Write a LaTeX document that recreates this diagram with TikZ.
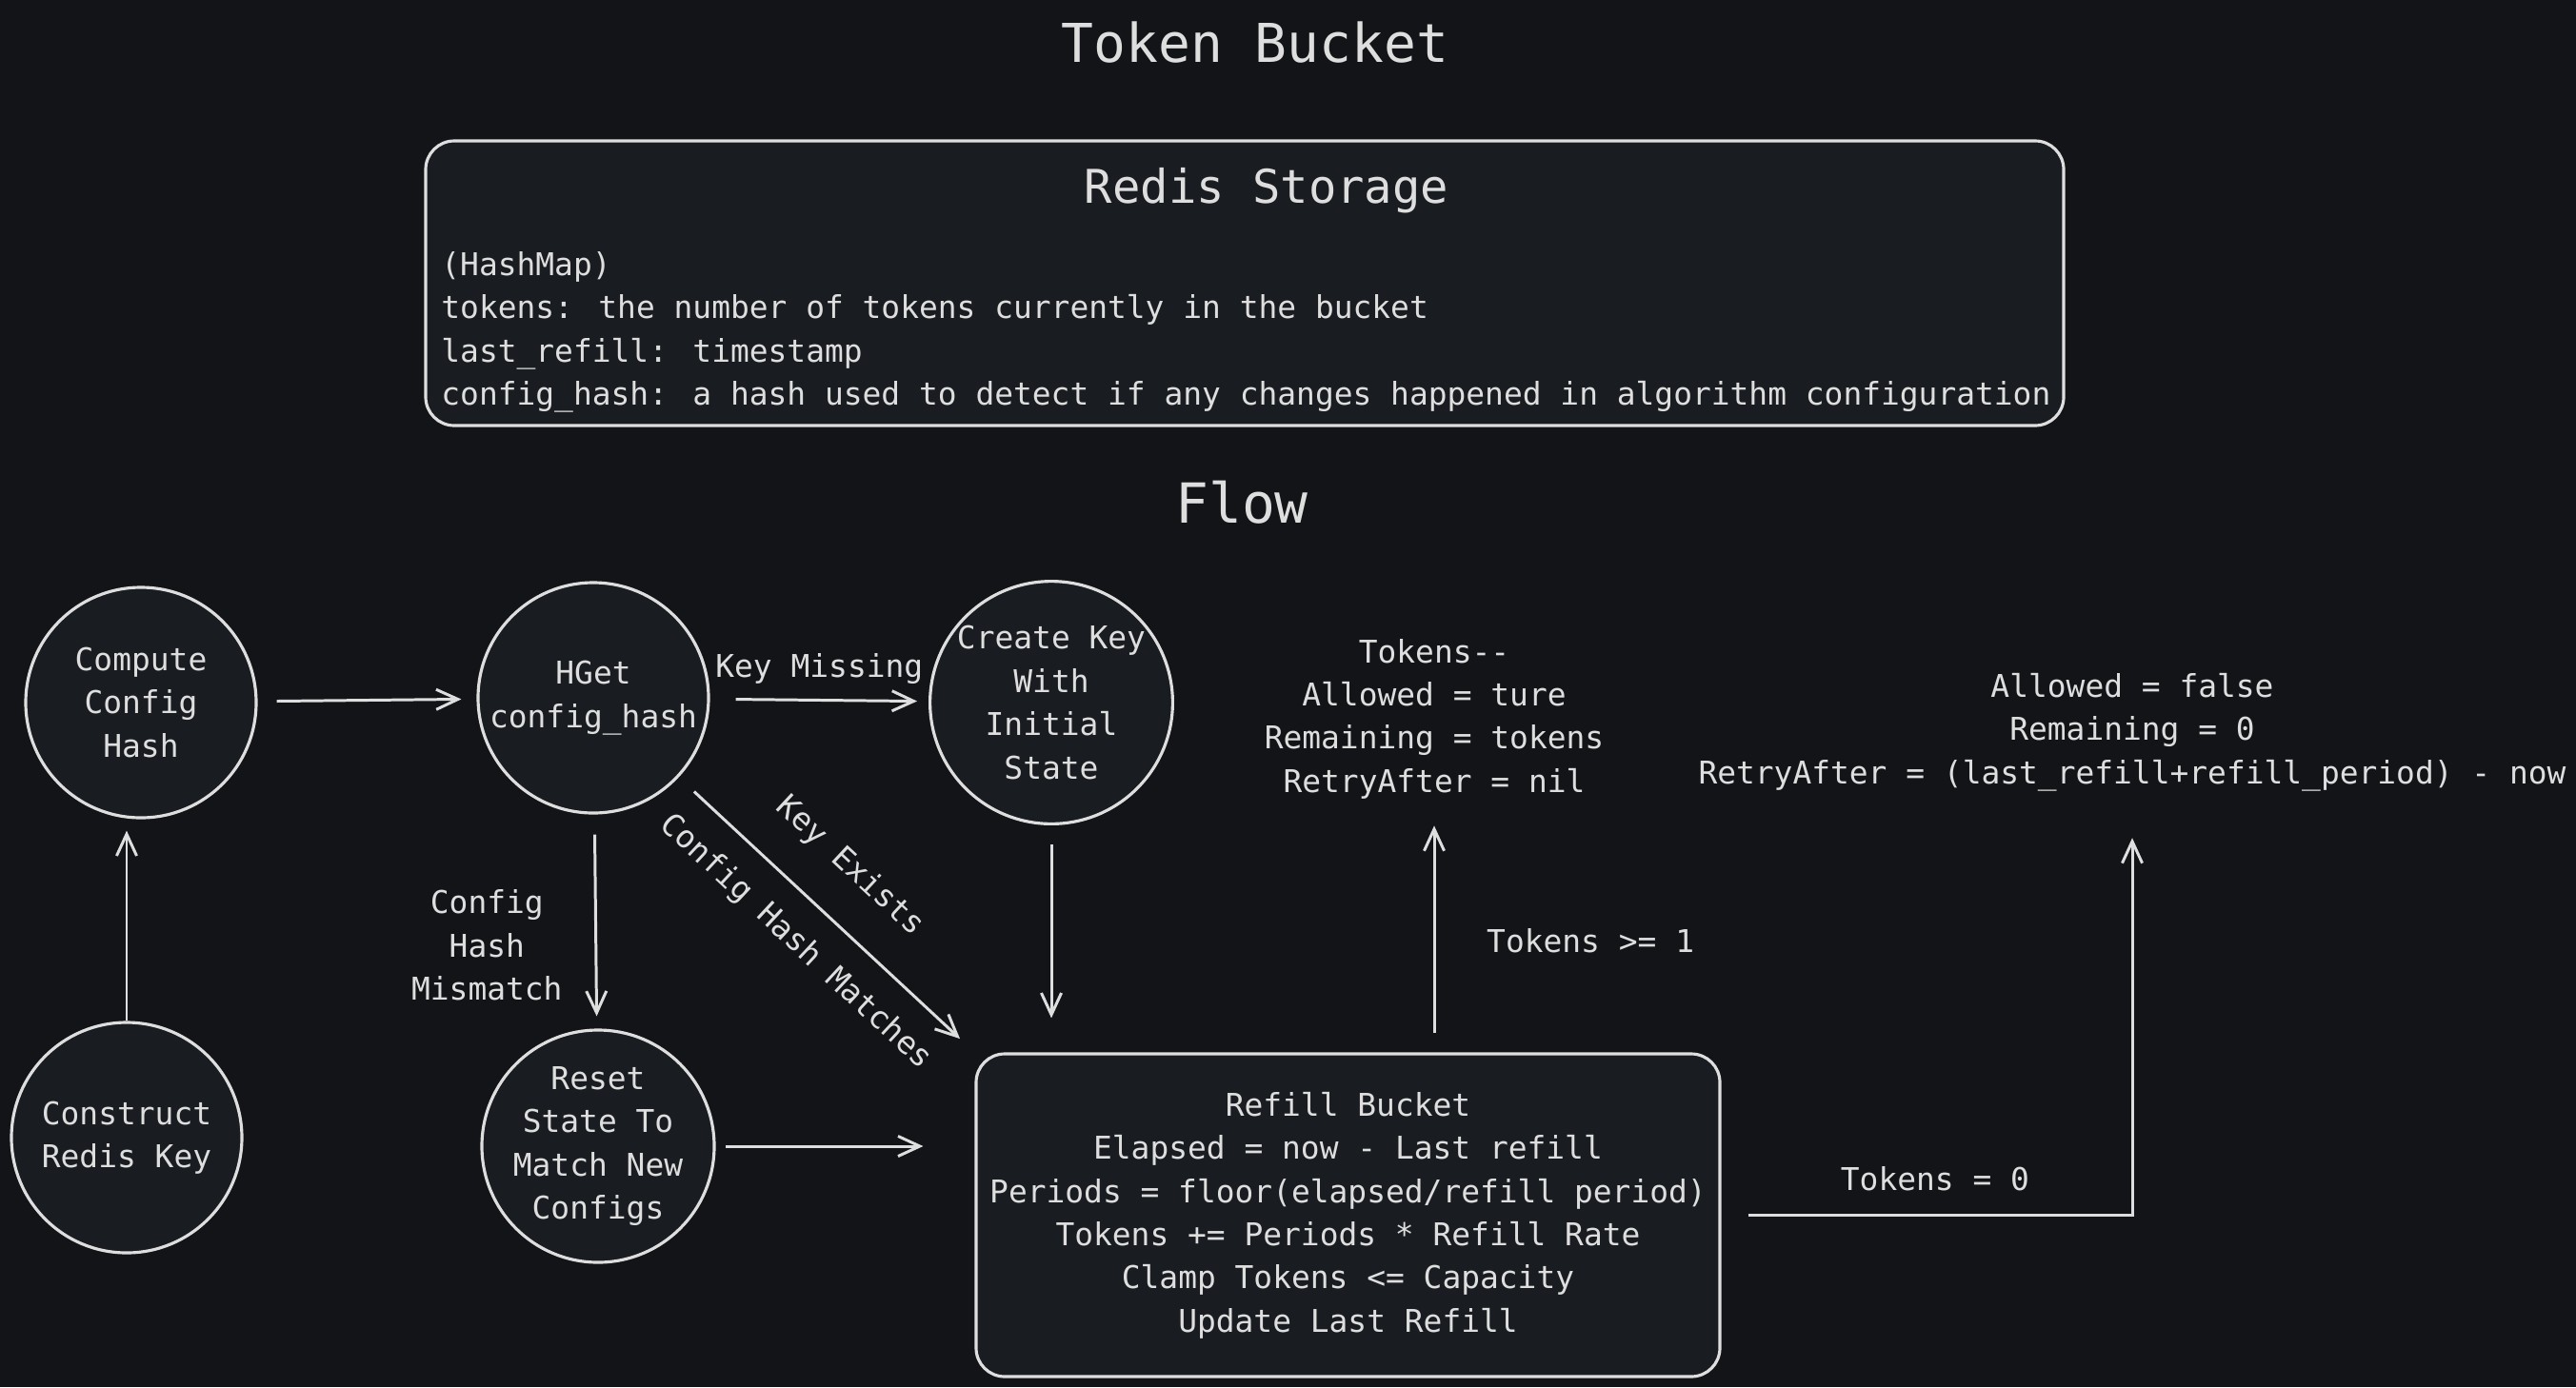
\documentclass[tikz,border=0pt]{standalone}
\usepackage{fontspec}
\setmainfont{DejaVu Sans Mono}
\usetikzlibrary{arrows.meta}
\definecolor{canvas}{RGB}{18,20,23}
\definecolor{ink}{RGB}{222,222,222}
\definecolor{shade}{RGB}{25,28,32}
\newcommand{\flowfont}{\fontsize{9.36}{12.9}\selectfont}

\begin{document}
\begin{tikzpicture}[x=1cm,y=-1cm]\tikzset{state/.style = {shape=circle, draw=ink, fill=shade, line width=0.9pt, minimum size=2.42cm, inner sep=0pt, align=center, text=ink, font=\flowfont},
	panel/.style = {draw=ink, fill=shade, line width=0.9pt, rounded corners=0.3cm},
	txt/.style = {text=ink, font=\flowfont, align=center},
	flow/.style = {draw=ink, line width=0.85pt, -{Straight Barb[length=6.5pt,width=6pt]}}}

		\fill[canvas] (0,0) rectangle (27.05,14.57);
		\useasboundingbox (0,0) rectangle (27.05,14.57);

		\node[txt, font=\fontsize{16}{19}\selectfont] (heading) at (13.18,0.45) {Token Bucket};
		\node[panel, minimum width=17.2cm, minimum height=2.99cm] (storage) at (13.07,2.975) {};
		\node[txt, font=\fontsize{13.9}{16}\selectfont] (storagetitle) at (13.30,2.0) {Redis Storage};
		\node[txt, align=left, anchor=west] (fields) at (4.51,3.49) {(HashMap)\\tokens: the number of tokens currently in the bucket\\last\_refill: timestamp\\config\_hash: a hash used to detect if any changes happened in algorithm configuration};
		\node[txt, font=\fontsize{16.5}{19}\selectfont] (flowtitle) at (13.04,5.28) {Flow};

		\node[state] (compute) at (1.48,7.38) {Compute\\Config\\Hash};
		\node[state] (hget) at (6.23,7.33) {HGet\\config\_hash};
		\node[state] (create) at (11.04,7.38) {Create Key\\With\\Initial\\State};
		\node[state] (construct) at (1.33,11.95) {Construct\\Redis Key};
		\node[state] (reset) at (6.28,12.04) {Reset\\State To\\Match New\\Configs};
		\node[panel, txt, minimum width=7.81cm, minimum height=3.39cm] (refill) at (14.155,12.765) {Refill Bucket\\Elapsed = now - Last refill\\Periods = floor(elapsed/refill period)\\Tokens += Periods * Refill Rate\\Clamp Tokens <= Capacity\\Update Last Refill};
		\node[txt] (allowtrue) at (15.06,7.55) {Tokens{-}{-}\\Allowed = ture\\Remaining = tokens\\RetryAfter = nil};
		\node[txt] (allowfalse) at (22.39,7.69) {Allowed = false\\Remaining = 0\\RetryAfter = (last\_refill+refill\_period) - now};

		\draw[flow, shorten <=0.2cm, shorten >=0.16cm] (compute) -- (hget);
		\draw[flow, shorten >=0.12cm] (construct.north) -- (construct.north |- compute.south);
		\draw[flow, shorten <=0.27cm, shorten >=0.12cm] (hget) -- node[txt, above=1pt] {Key Missing} (create);
		\draw[flow, shorten <=0.21cm, shorten >=0.13cm] (hget) -- node[txt, pos=0.61, left=0.22cm] {Config\\Hash\\Mismatch} (reset);
		\draw[flow, shorten <=0.22cm, shorten >=0.21cm] (hget) -- node[txt, pos=0.46, sloped, above=7pt] {Key Exists} node[txt, pos=0.49, sloped, below=4pt] {Config Hash Matches} (refill.north west);
		\draw[flow, shorten <=0.2cm, shorten >=0.36cm] (create) -- (create |- refill.north);
		\draw[flow, shorten <=0.1cm, shorten >=0.54cm] (reset) -- (reset -| refill.west);
		\draw[flow, shorten <=0.2cm, shorten >=0.16cm] (allowtrue |- refill.north) -- node[txt, pos=0.46, right=0.42cm] {Tokens >= 1} (allowtrue);
		\draw[flow, shorten <=0.28cm, shorten >=0.37cm] (refill.east) -| node[txt, pos=0.26, above=0.12cm] {Tokens = 0} (allowfalse.south);
	\end{tikzpicture}
\end{document}
